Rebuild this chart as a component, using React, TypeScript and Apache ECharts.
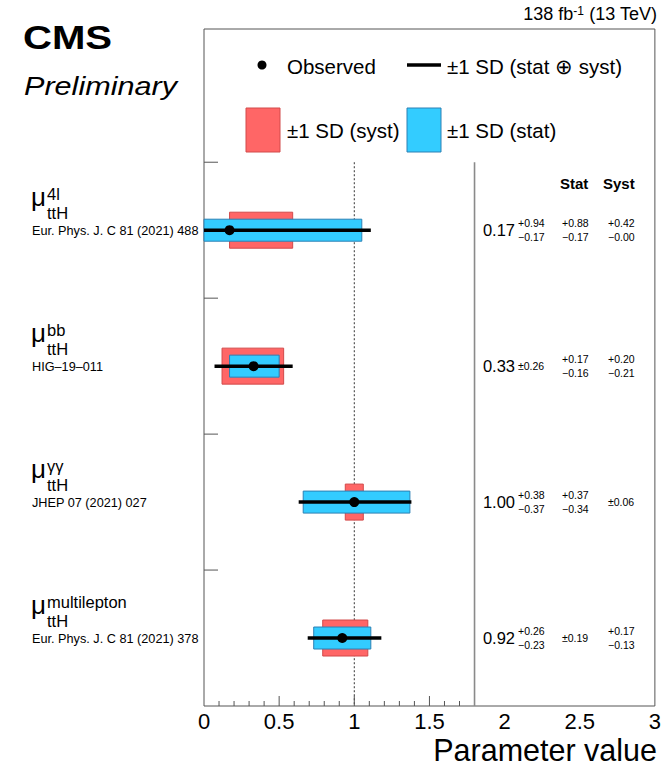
import React, { useEffect, useRef } from "react";
import * as echarts from "echarts";

// ---------- data ----------
const channels = ["4l", "bb", "γγ", "multilepton"];
const references = [
  "Eur. Phys. J. C 81 (2021) 488",
  "HIG–19–011",
  "JHEP 07 (2021) 027",
  "Eur. Phys. J. C 81 (2021) 378",
];
const observed = [0.17, 0.33, 1.0, 0.92];
const totalHi = [0.94, 0.26, 0.38, 0.26];
const totalLo = [0.17, 0.26, 0.37, 0.23];
const statHi = [0.88, 0.17, 0.37, 0.19];
const statLo = [0.17, 0.16, 0.34, 0.19];
const systHi = [0.42, 0.2, 0.06, 0.17];
const systLo = [0.0, 0.21, 0.06, 0.13];
const rowPositions = [1.5, 2.5, 3.5, 4.5];
const rowBoundaries = [1, 2, 3, 4];
const xMinorTicks = [0.1, 0.2, 0.3, 0.4, 0.6, 0.7, 0.8, 0.9, 1.1, 1.2, 1.3, 1.4, 1.6, 1.7];
const xMajorTicks = [0.5, 1.0, 1.5];
const refLines = [1.0, 1.8]; // dotted SM line, column separator

// ---------- style ----------
const FONT = '"Liberation Sans", Arial, Helvetica, sans-serif';
const RED = "#ff6666";
const RED_EDGE = "#d24a4a";
const BLUE = "#33ccff";
const BLUE_EDGE = "#2c80b4";
const FRAME = "#555555";
const MINUS = "\u2212";

const f2 = (n: number) => n.toFixed(2);

function txt(text: string, x: number, y: number, size: number, extra: any = {}) {
  return {
    type: "text",
    x,
    y,
    style: {
      text,
      fill: "#000",
      fontSize: size,
      fontFamily: FONT,
      align: "left",
      verticalAlign: "middle",
      ...extra,
    },
  };
}

function errTexts(hi: number, lo: number, x: number, yc: number, size: number) {
  if (hi === lo) return [txt("±" + f2(hi), x, yc, size)];
  return [txt("+" + f2(hi), x, yc - 6.8, size), txt(MINUS + f2(lo), x, yc + 6.8, size)];
}

const rowData = observed.map((v, i) => [
  v,
  rowPositions[i],
  v - totalLo[i],
  v + totalHi[i],
  v - statLo[i],
  v + statHi[i],
  v - systLo[i],
  v + systHi[i],
]);

function renderRow(params: any, api: any) {
  const i = params.dataIndex;
  const yv = api.value(1);
  const [xObs, yc] = api.coord([api.value(0), yv]);
  const X = (k: number) => api.coord([api.value(k), yv])[0];
  const xt0 = X(2), xt1 = X(3), xs0 = X(4), xs1 = X(5), xy0 = X(6), xy1 = X(7);
  const children: any[] = [
    {
      type: "rect",
      shape: { x: xy0, y: yc - 18, width: xy1 - xy0, height: 36 },
      style: { fill: RED, stroke: RED_EDGE, lineWidth: 1 },
    },
    {
      type: "rect",
      shape: { x: xs0, y: yc - 11, width: xs1 - xs0, height: 22 },
      style: { fill: BLUE, stroke: BLUE_EDGE, lineWidth: 1 },
    },
    {
      type: "line",
      shape: { x1: xt0, y1: yc, x2: xt1, y2: yc },
      style: { stroke: "#000", lineWidth: 3.5 },
    },
    { type: "circle", shape: { cx: xObs, cy: yc, r: 5 }, style: { fill: "#000" } },
    // left labels
    txt("μ", 31, yc - 33, 26),
    txt(channels[i], 47, yc - 36, 16.5),
    txt("ttH", 47, yc - 17, 16.5),
    txt(references[i], 32, yc + 1, 12.7),
    // right numbers
    txt(f2(observed[i]), 515, yc, 16.5, { align: "right" }),
    ...errTexts(totalHi[i], totalLo[i], 518, yc, 10.5),
    ...errTexts(statHi[i], statLo[i], 562, yc, 10.5),
    ...errTexts(systHi[i], systLo[i], 608, yc, 10.5),
  ];
  return { type: "group", children };
}

const option: any = {
  animation: false,
  backgroundColor: "#fff",
  grid: {
    left: 204,
    right: 6,
    top: 29,
    bottom: 61,
    show: true,
    borderColor: FRAME,
    borderWidth: 1,
    backgroundColor: "transparent",
  },
  xAxis: {
    type: "value",
    min: 0,
    max: 3,
    interval: 0.5,
    axisLine: { show: false },
    axisTick: { show: false },
    splitLine: { show: false },
    axisLabel: { color: "#000", fontSize: 22, lineHeight: 22, fontFamily: FONT, margin: 4 },
  },
  yAxis: {
    type: "value",
    inverse: true,
    min: 0.02,
    max: 5,
    axisLine: { show: false },
    axisTick: { show: false },
    splitLine: { show: false },
    axisLabel: { show: false },
  },
  graphic: [
    { type: "text", x: 23, y: 37.5, scaleX: 1.18, style: { text: "CMS", fill: "#000", fontSize: 34, fontWeight: "bold", fontFamily: FONT, align: "left", verticalAlign: "middle" } },
    { type: "text", x: 24, y: 86.5, scaleX: 1.2, style: { text: "Preliminary", fill: "#000", fontSize: 25.5, fontStyle: "italic", fontFamily: FONT, align: "left", verticalAlign: "middle" } },
    {
      type: "text",
      x: 657,
      y: 14,
      style: {
        text: "{a|138 fb}{s|-1}{a| (13 TeV)}",
        align: "right",
        verticalAlign: "middle",
        fill: "#000",
        rich: {
          a: { fontSize: 18, fontFamily: FONT, fill: "#000" },
          s: { fontSize: 12, fontFamily: FONT, fill: "#000", verticalAlign: "top" },
        },
      },
    },
    // legend
    { type: "circle", shape: { cx: 262, cy: 65, r: 4.5 }, style: { fill: "#000" } },
    txt("Observed", 287, 66, 20.5),
    { type: "line", shape: { x1: 407, y1: 65, x2: 441, y2: 65 }, style: { stroke: "#000", lineWidth: 3.5 } },
    txt("±1 SD (stat ⊕ syst)", 447, 66, 20.5),
    { type: "rect", shape: { x: 246, y: 108, width: 34, height: 44 }, style: { fill: RED, stroke: RED_EDGE, lineWidth: 1 } },
    txt("±1 SD (syst)", 287, 130, 20.5),
    { type: "rect", shape: { x: 407, y: 108, width: 34, height: 44 }, style: { fill: BLUE, stroke: BLUE_EDGE, lineWidth: 1 } },
    txt("±1 SD (stat)", 447, 130, 20.5),
    // column headers
    txt("Stat", 560, 183, 15, { fontWeight: "bold" }),
    txt("Syst", 603, 183, 15, { fontWeight: "bold" }),
    // axis title
    txt("Parameter value", 657, 750, 30.5, { align: "right", lineHeight: 30 }),
  ],
  series: [
    {
      type: "custom",
      name: "refLines",
      silent: true,
      clip: false,
      data: refLines.map((v, i) => [v, i]),
      renderItem: (p: any, api: any) => {
        const [x, y1] = api.coord([api.value(0), 1]);
        const y2 = api.coord([api.value(0), 5])[1];
        const dotted = api.value(1) === 0;
        return {
          type: "line",
          shape: { x1: x, y1, x2: x, y2 },
          style: dotted
            ? { stroke: "#333", lineWidth: 1, lineDash: [2, 2] }
            : { stroke: "#8a8a8a", lineWidth: 1.6 },
        };
      },
    },
    {
      type: "custom",
      name: "xTicks",
      silent: true,
      clip: false,
      data: xMinorTicks.map((v) => [v, 0]).concat(xMajorTicks.map((v) => [v, 1])),
      renderItem: (p: any, api: any) => {
        const [x, yb] = api.coord([api.value(0), 5]);
        const len = api.value(1) === 1 ? 10 : 5;
        return { type: "line", shape: { x1: x, y1: yb, x2: x, y2: yb - len }, style: { stroke: FRAME, lineWidth: 1 } };
      },
    },
    {
      type: "custom",
      name: "yTicks",
      silent: true,
      clip: false,
      data: rowBoundaries.map((b) => [0, b]),
      renderItem: (p: any, api: any) => {
        const [x, y] = api.coord([0, api.value(1)]);
        return { type: "line", shape: { x1: x, y1: y, x2: x + 14, y2: y }, style: { stroke: FRAME, lineWidth: 1 } };
      },
    },
    {
      type: "custom",
      name: "measurements",
      silent: true,
      clip: false,
      data: rowData,
      renderItem: renderRow,
    },
  ],
};

export default function App() {
  const ref = useRef<HTMLDivElement>(null);
  useEffect(() => {
    document.body.style.margin = "0";
    const chart = echarts.init(ref.current as HTMLDivElement, null, { renderer: "svg" });
    chart.setOption(option);
    return () => chart.dispose();
  }, []);
  return <div ref={ref} style={{ width: 664, height: 767 }} />;
}
